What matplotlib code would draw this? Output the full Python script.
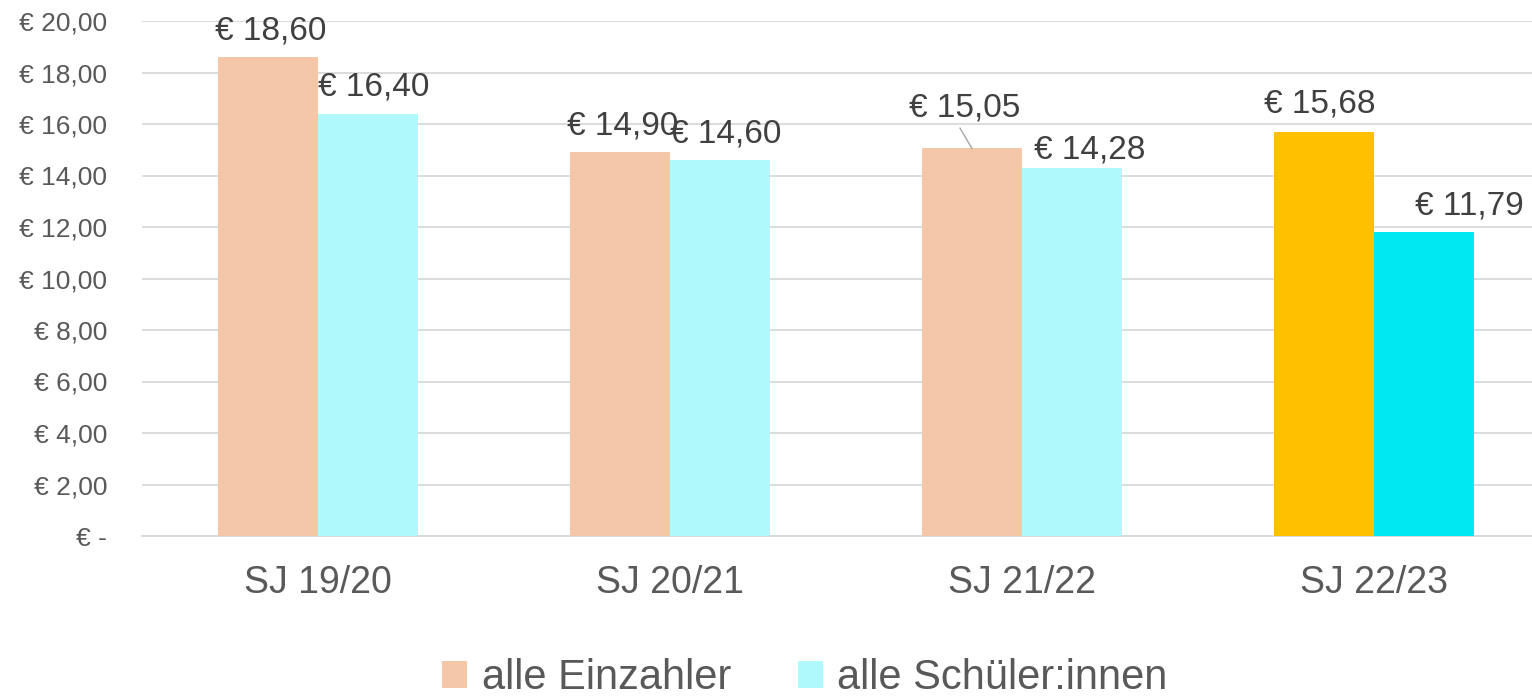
import numpy as np
import matplotlib.pyplot as plt

years = ["SJ 19/20", "SJ 20/21", "SJ 21/22", "SJ 22/23"]
einzahler = [18.60, 14.90, 15.05, 15.68]
schueler = [16.40, 14.60, 14.28, 11.79]

c_ein = ["#F4C7A8", "#F4C7A8", "#F4C7A8", "#FFC000"]
c_sch = ["#AFF9FC", "#AFF9FC", "#AFF9FC", "#00E8F2"]
# label offsets in points (dx, dy) - hand placed like the original
off_ein = [(2, 19), (2, 19), (-5, 29), (-3, 20)]
off_sch = [(4, 19), (4, 19), (13, 13), (33, 19)]

plt.rcParams['font.family'] = ['Liberation Sans', 'DejaVu Sans']

fig = plt.figure(figsize=(15.32, 6.96), dpi=100)
ax = fig.add_axes([142/1532, 1 - 536/696, 1 - 142/1532, (536 - 21)/696])

x = np.arange(len(years))
w = 0.284
b1 = ax.bar(x - w/2, einzahler, w, color=c_ein, label="alle Einzahler", zorder=3)
b2 = ax.bar(x + w/2, schueler, w, color=c_sch, label="alle Schüler:innen", zorder=3)

def fmt(v):
    return ("€ %.2f" % v).replace(".", ",")

for bars, vals, offs in [(b1, einzahler, off_ein), (b2, schueler, off_sch)]:
    for r, v, (dx, dy) in zip(bars, vals, offs):
        ax.annotate(fmt(v), (r.get_x() + r.get_width()/2, v), xytext=(dx, dy),
                    textcoords="offset points", ha="center", va="center",
                    fontsize=24, color="#404040", zorder=5)

# leader line for 21/22
r = b1[2]
cx = r.get_x() + r.get_width()/2
ax.plot([cx, cx - 0.034], [15.05, 15.84], color="#A6A6A6", lw=1, zorder=4)

ax.set_ylim(0, 20)
ax.set_xlim(-0.5, 3.449)
ticks = np.arange(0, 21, 2)
ax.set_yticks(ticks)
ax.set_yticklabels(["€ -"] + ["€ %d,00" % t for t in ticks[1:]])
ax.set_xticks(x)
ax.set_xticklabels(years)
ax.tick_params(axis="y", length=0, labelsize=19, labelcolor="#595959", pad=25)
ax.tick_params(axis="x", length=0, labelsize=27, labelcolor="#595959", pad=21)
ax.grid(axis="y", color="#D9D9D9", lw=1.3, zorder=0)
for s in ["left", "right", "top"]:
    ax.spines[s].set_visible(False)
ax.spines["bottom"].set_color("#D9D9D9")
ax.spines["bottom"].set_linewidth(1.3)

leg = fig.legend(handles=[b1[0], b2[0]], labels=["alle Einzahler", "alle Schüler:innen"],
                 loc="center", bbox_to_anchor=(805/1532, 1 - 678/696), ncol=2, frameon=False,
                 fontsize=30, handlelength=0.6, handleheight=0.6, handletextpad=0.35,
                 columnspacing=1.6)
for t in leg.get_texts():
    t.set_color("#595959")

fig.savefig("out.png", dpi=100)
